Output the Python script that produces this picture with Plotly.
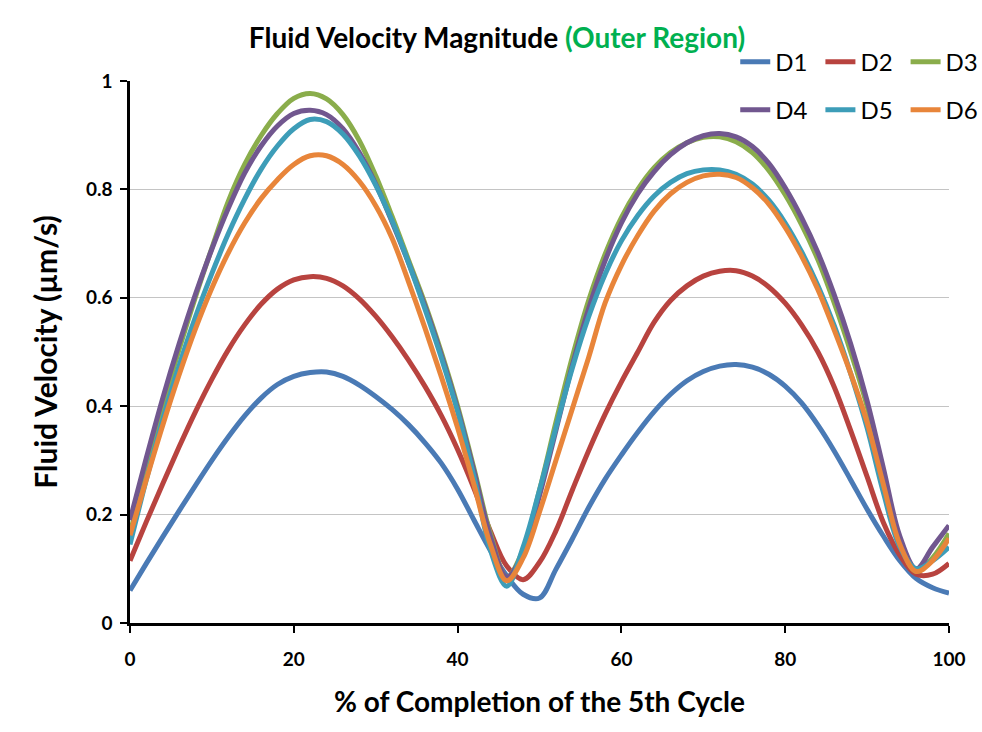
import plotly.graph_objects as go

# % of completion of the 5th cycle (sampled every 2 %)
x_pct = list(range(0, 101, 2))

d1 = [0.06, 0.11, 0.159, 0.207, 0.254, 0.30, 0.343, 0.382, 0.415, 0.44, 0.455, 0.462, 0.463,
      0.455, 0.439, 0.418, 0.394, 0.366, 0.333, 0.295, 0.247, 0.19, 0.134, 0.087, 0.053, 0.046,
      0.099, 0.155, 0.213, 0.265, 0.31, 0.352, 0.39, 0.422, 0.447, 0.464, 0.474, 0.477, 0.472,
      0.459, 0.437, 0.406, 0.365, 0.317, 0.264, 0.21, 0.16, 0.115, 0.082, 0.065, 0.055]
d2 = [0.115, 0.187, 0.257, 0.325, 0.39, 0.45, 0.504, 0.55, 0.588, 0.616, 0.633, 0.639, 0.636,
      0.622, 0.598, 0.566, 0.528, 0.485, 0.437, 0.383, 0.32, 0.248, 0.17, 0.105, 0.08, 0.112,
      0.17, 0.245, 0.318, 0.385, 0.445, 0.50, 0.555, 0.595, 0.622, 0.64, 0.649, 0.65, 0.64,
      0.62, 0.59, 0.55, 0.50, 0.435, 0.355, 0.27, 0.185, 0.125, 0.09, 0.09, 0.11]
d3 = [0.165, 0.285, 0.40, 0.505, 0.602, 0.692, 0.778, 0.846, 0.899, 0.94, 0.968, 0.977, 0.967,
      0.938, 0.89, 0.825, 0.75, 0.67, 0.59, 0.50, 0.40, 0.285, 0.165, 0.085, 0.135, 0.245,
      0.37, 0.49, 0.595, 0.68, 0.748, 0.80, 0.84, 0.868, 0.886, 0.896, 0.897, 0.888, 0.868,
      0.835, 0.79, 0.735, 0.67, 0.59, 0.50, 0.40, 0.27, 0.15, 0.095, 0.12, 0.165]
d4 = [0.19, 0.305, 0.415, 0.515, 0.607, 0.69, 0.765, 0.83, 0.88, 0.917, 0.94, 0.946, 0.938,
      0.912, 0.868, 0.81, 0.74, 0.665, 0.585, 0.495, 0.395, 0.28, 0.16, 0.085, 0.13, 0.235,
      0.355, 0.475, 0.58, 0.668, 0.738, 0.792, 0.833, 0.864, 0.886, 0.899, 0.903, 0.897, 0.879,
      0.848, 0.803, 0.748, 0.683, 0.605, 0.515, 0.41, 0.285, 0.16, 0.10, 0.14, 0.18]
d5 = [0.145, 0.265, 0.375, 0.475, 0.565, 0.645, 0.718, 0.782, 0.837, 0.88, 0.912, 0.929, 0.925,
      0.902, 0.862, 0.808, 0.742, 0.665, 0.58, 0.49, 0.39, 0.27, 0.135, 0.068, 0.14, 0.245,
      0.36, 0.47, 0.565, 0.643, 0.705, 0.752, 0.788, 0.813, 0.829, 0.836, 0.836, 0.828, 0.81,
      0.78, 0.738, 0.685, 0.622, 0.548, 0.46, 0.36, 0.24, 0.14, 0.10, 0.115, 0.14]
d6 = [0.162, 0.265, 0.365, 0.458, 0.543, 0.618, 0.683, 0.738, 0.783, 0.818, 0.846, 0.862, 0.862,
      0.846, 0.815, 0.77, 0.71, 0.63, 0.545, 0.455, 0.36, 0.255, 0.145, 0.078, 0.12, 0.205,
      0.30, 0.395, 0.49, 0.59, 0.66, 0.715, 0.76, 0.792, 0.813, 0.825, 0.828, 0.822, 0.803,
      0.773, 0.73, 0.677, 0.615, 0.54, 0.46, 0.37, 0.255, 0.145, 0.095, 0.115, 0.156]

series_names = ["D1", "D2", "D3", "D4", "D5", "D6"]
series_values = [d1, d2, d3, d4, d5, d6]
series_colors = ["#4a7ab5", "#b8433f", "#8aad4b", "#71578f", "#3d9db8", "#e8853a"]

x_ticks = [0, 20, 40, 60, 80, 100]
y_ticks = [0, 0.2, 0.4, 0.6, 0.8, 1.0]
y_ticklabels = ["0", "0.2", "0.4", "0.6", "0.8", "1"]

FONT = "Lato"

# legend grid: 3 columns x 2 rows (paper coordinates)
legend_cols = [0.739, 0.843, 0.947]
legend_rows = [1.035, 0.946]

fig = go.Figure()
legend_layout = {}
for i, (name, vals, col) in enumerate(zip(series_names, series_values, series_colors)):
    key = "legend" if i == 0 else f"legend{i + 1}"
    fig.add_trace(go.Scatter(
        x=x_pct, y=vals, name=name, mode="lines",
        line=dict(color=col, width=5, shape="spline", smoothing=1.0),
        legend=key, showlegend=True,
    ))
    legend_layout[key] = dict(
        x=legend_cols[i % 3], y=legend_rows[i // 3],
        xanchor="left", yanchor="middle", orientation="h",
        font=dict(family=FONT, size=24, color="black"),
        bgcolor="rgba(0,0,0,0)", borderwidth=0, visible=True,
    )

fig.update_layout(
    width=982, height=732,
    showlegend=True,
    margin=dict(l=130, r=33, t=81, b=109, autoexpand=False),
    plot_bgcolor="white", paper_bgcolor="white",
    font=dict(family=FONT, color="black"),
    title=dict(
        text="<b>Fluid Velocity Magnitude <span style='color:#00B050'>(Outer Region)</span></b>",
        x=497 / 982, xanchor="center", y=1 - 38 / 732, yanchor="middle",
        font=dict(family=FONT, size=28, color="black"),
    ),
    **legend_layout,
)

fig.update_xaxes(
    range=[0, 100], tickvals=x_ticks, showgrid=False, zeroline=False,
    showline=True, linecolor="black", linewidth=2.5,
    ticks="outside", ticklen=7, tickwidth=2, tickcolor="black",
    ticklabelstandoff=10,
    tickfont=dict(family=FONT, size=19, weight="bold"),
    title=dict(text="<b>% of Completion of the 5th Cycle</b>", font=dict(family=FONT, size=28), standoff=24),
)
fig.update_yaxes(
    range=[0, 1], tickvals=y_ticks, ticktext=y_ticklabels,
    showgrid=True, gridcolor="#c4c4c4", gridwidth=1, zeroline=False,
    showline=True, linecolor="black", linewidth=2.5,
    ticks="outside", ticklen=7, tickwidth=2, tickcolor="black",
    ticklabelstandoff=4,
    tickfont=dict(family=FONT, size=19, weight="bold"),
    title=dict(text="<b>Fluid Velocity (µm/s)</b>", font=dict(family=FONT, size=30), standoff=20),
)

# remove the default page margin so the 982x732 figure fills the window exactly
fig.write_html(
    "out.html",
    config={"displayModeBar": False},
    post_script="document.body.style.margin='0px';document.body.style.overflow='hidden';",
)
